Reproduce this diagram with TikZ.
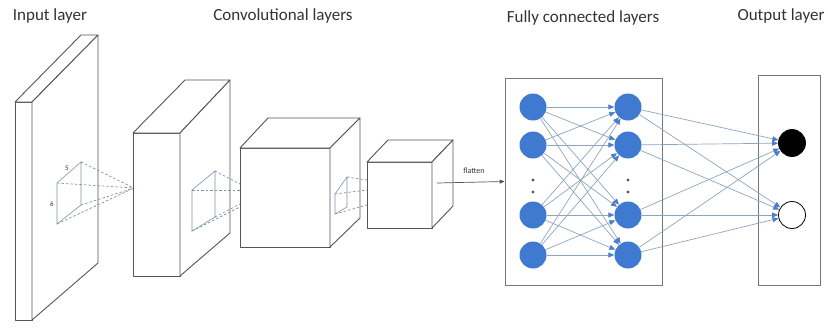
\documentclass[tikz,border=0pt]{standalone}
\usepackage{fontspec}
\setmainfont{Carlito}
\usetikzlibrary{arrows.meta}
\definecolor{edgeC}{HTML}{555555}
\definecolor{dashC}{HTML}{7F93A8}
\definecolor{nodeC}{HTML}{3F7AD0}
\definecolor{linkC}{HTML}{8DA6BC}
\definecolor{tipC}{HTML}{4C7EC8}
\definecolor{txtC}{HTML}{333333}
\begin{document}
\begin{tikzpicture}[x=1pt,y=-1pt,
  boxline/.style={draw=edgeC,line width=0.9pt,line join=round,fill=white},
  filt/.style={draw=dashC,line width=0.6pt},
  dsh/.style={draw=dashC,line width=0.7pt,dash pattern=on 2.5pt off 2pt},
  title/.style={text=txtC,font=\fontsize{17}{20}\selectfont,inner sep=0pt},
  small/.style={text=txtC,font=\fontsize{7}{8}\selectfont,inner sep=0pt},
  frame/.style={draw=edgeC!80,line width=0.9pt},
  neuron/.style={circle,fill=nodeC,minimum size=27pt,inner sep=0pt},
  outn/.style={circle,draw=black,line width=0.8pt,minimum size=27pt,inner sep=0pt},
  link/.style={draw=linkC,line width=0.7pt,-{Triangle[length=6pt,width=5pt,fill=tipC,color=tipC]}},
  flat/.style={draw=edgeC,line width=0.7pt,-{Triangle[length=5pt,width=4pt]}}
]
\useasboundingbox (0,0) rectangle (828,335);

% titles
\node[title] (t1) at (50,16) {Input layer};
\node[title] (t2) at (283,16) {Convolutional layers};
\node[title] (t3) at (583,18) {Fully connected layers};
\node[title] (t4) at (781,16) {Output layer};

% input slab
\draw[boxline] (15,102) rectangle (32,320);
\draw[boxline] (15,102) -- (81,35) -- (98,35) -- (32,102) -- cycle;
\draw[boxline] (32,102) -- (98,35) -- (98,263) -- (32,320) -- cycle;
% filter on input
\draw[filt] (57,183) -- (81,162) -- (81,205) -- (57,224) -- cycle;
\node[small] (l5) at (67,168) {5};
\node[small] (l6) at (52,204) {6};
\coordinate (c1) at (134,188);
\draw[dsh] (81,162) -- (c1);
\draw[dsh] (57,183) -- (c1);
\draw[dsh] (81,205) -- (c1);
\draw[dsh] (57,224) -- (c1);

% conv 1
\draw[boxline] (133,133) rectangle (180,276);
\draw[boxline] (133,133) -- (185,80) -- (230,80) -- (180,133) -- cycle;
\draw[boxline] (180,133) -- (230,80) -- (230,233) -- (180,276) -- cycle;
\draw[filt] (192,190) -- (215,171) -- (215,217) -- (192,231) -- cycle;
\draw[dsh] (215,171) -- (240,184);
\draw[dsh] (192,190) -- (240,190);
\draw[dsh] (215,217) -- (240,204);
\draw[dsh] (192,231) -- (240,207);

% conv 2
\draw[boxline] (240,148) rectangle (330,247);
\draw[boxline] (240,148) -- (268,118) -- (360,118) -- (330,148) -- cycle;
\draw[boxline] (330,148) -- (360,118) -- (360,218) -- (330,247) -- cycle;
\draw[filt] (335,194) -- (347,177) -- (347,207) -- (335,214) -- cycle;
\draw[dsh] (347,177) -- (367,180);
\draw[dsh] (335,194) -- (367,190);
\draw[dsh] (335,214) -- (367,205);

% conv 3
\draw[boxline] (367,162) rectangle (432,228);
\draw[boxline] (367,162) -- (388,140) -- (453,140) -- (432,162) -- cycle;
\draw[boxline] (432,162) -- (453,140) -- (453,206) -- (432,228) -- cycle;

% fully connected box
\node[frame,minimum width=157pt,minimum height=207pt,inner sep=0pt] (fc) at (583.5,181.5) {};
\node[frame,minimum width=62pt,minimum height=210pt,inner sep=0pt] (ob) at (789,180) {};

% flatten
\coordinate (fs) at (437,183);
\draw[flat] (fs) -- (fc.west);
\node[small,font=\fontsize{8}{9}\selectfont] (fl) at (474,171) {flatten};

% neurons
\foreach \i/\y in {1/107,2/145,3/215,4/255}{
  \node[neuron] (a\i) at (533,\y) {};
  \node[neuron] (b\i) at (628,\y) {};
}
\node[outn,fill=black] (o1) at (792,143) {};
\node[outn,fill=white] (o2) at (792,215) {};
\foreach \x in {533,628}{
  \fill[edgeC] (\x,180) circle (1.6pt);
  \fill[edgeC] (\x,192) circle (1.6pt);
}

% links
\foreach \i in {1,...,4}{
  \foreach \j in {1,...,4}{
    \draw[link] (a\i) -- (b\j);
  }
  \draw[link] (b\i) -- (o1);
  \draw[link] (b\i) -- (o2);
}
\end{tikzpicture}
\end{document}
